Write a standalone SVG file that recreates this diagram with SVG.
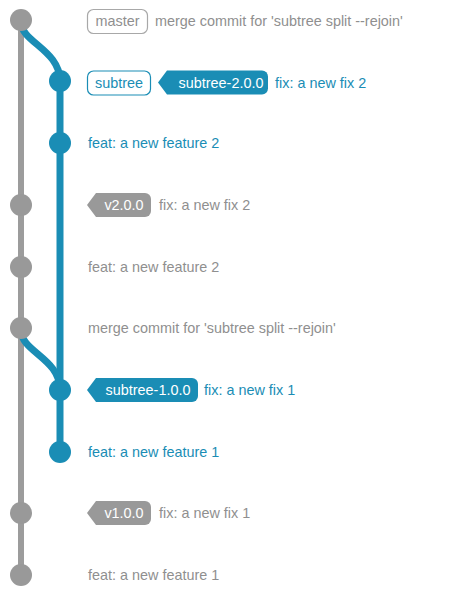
<svg xmlns="http://www.w3.org/2000/svg" width="474" height="614" viewBox="0 0 474 614">
<style>
text{font-family:"Liberation Sans",Arial,Helvetica,sans-serif;font-size:14.4px}
.g{fill:#999999}
.b{fill:#1a8db5}
.gt{fill:#8f8f8f}
.bt{fill:#1a8db5}
.w{fill:#ffffff}
.gl{stroke:#9c9c9c;stroke-width:6;fill:none}
.bl{stroke:#1a8db5;stroke-width:7;fill:none}
</style>
<rect width="474" height="614" fill="#ffffff"/>
<g id="connectors">
<line class="gl" x1="21" y1="20" x2="21" y2="575"/>
<line class="bl" x1="60" y1="81" x2="60" y2="452"/>
<path class="bl" d="M21,22 C21,42 60,50 60,81"/>
<path class="bl" d="M21,330 C21,352 60,358 60,390"/>
</g>
<g id="c1">
<circle class="g" cx="21" cy="20" r="11"/>
<rect x="87.5" y="9.5" width="60" height="24" rx="6" fill="#fff" stroke="#a8a8a8" stroke-width="1.2"/>
<text class="gt" x="117.5" y="26" text-anchor="middle">master</text>
<text class="gt" x="155" y="26">merge commit for 'subtree split --rejoin'</text>
</g>
<g id="c2">
<circle class="b" cx="60" cy="81" r="11"/>
<rect x="87.5" y="71" width="63" height="24" rx="6" fill="#fff" stroke="#1a8db5" stroke-width="1.2"/>
<text class="bt" x="119" y="87.5" text-anchor="middle">subtree</text>
<path class="b" d="M158,82.5 L167,70.5 H262 A6,6 0 0 1 268,76.5 V88.5 A6,6 0 0 1 262,94.5 H167 Z"/>
<text class="w" x="221" y="87.5" text-anchor="middle">subtree-2.0.0</text>
<text class="bt" x="275" y="87.5">fix: a new fix 2</text>
</g>
<g id="c3">
<circle class="b" cx="60" cy="143" r="11"/>
<text class="bt" x="88" y="148">feat: a new feature 2</text>
</g>
<g id="c4">
<circle class="g" cx="21" cy="205" r="11"/>
<path class="g" d="M87,205 L96,193 H145 A6,6 0 0 1 151,199 V211 A6,6 0 0 1 145,217 H96 Z"/>
<text class="w" x="124" y="210" text-anchor="middle">v2.0.0</text>
<text class="gt" x="159" y="210">fix: a new fix 2</text>
</g>
<g id="c5">
<circle class="g" cx="21" cy="267" r="11"/>
<text class="gt" x="88" y="272">feat: a new feature 2</text>
</g>
<g id="c6">
<circle class="g" cx="21" cy="328" r="11"/>
<text class="gt" x="88" y="333">merge commit for 'subtree split --rejoin'</text>
</g>
<g id="c7">
<circle class="b" cx="60" cy="390" r="11"/>
<path class="b" d="M87,390 L96,378 H192 A6,6 0 0 1 198,384 V396 A6,6 0 0 1 192,402 H96 Z"/>
<text class="w" x="148" y="395" text-anchor="middle">subtree-1.0.0</text>
<text class="bt" x="204" y="395">fix: a new fix 1</text>
</g>
<g id="c8">
<circle class="b" cx="60" cy="452" r="11"/>
<text class="bt" x="88" y="457">feat: a new feature 1</text>
</g>
<g id="c9">
<circle class="g" cx="21" cy="513" r="11"/>
<path class="g" d="M87,513 L96,501 H145 A6,6 0 0 1 151,507 V519 A6,6 0 0 1 145,525 H96 Z"/>
<text class="w" x="124" y="518" text-anchor="middle">v1.0.0</text>
<text class="gt" x="159" y="518">fix: a new fix 1</text>
</g>
<g id="c10">
<circle class="g" cx="21" cy="575" r="11"/>
<text class="gt" x="88" y="580">feat: a new feature 1</text>
</g>
</svg>
